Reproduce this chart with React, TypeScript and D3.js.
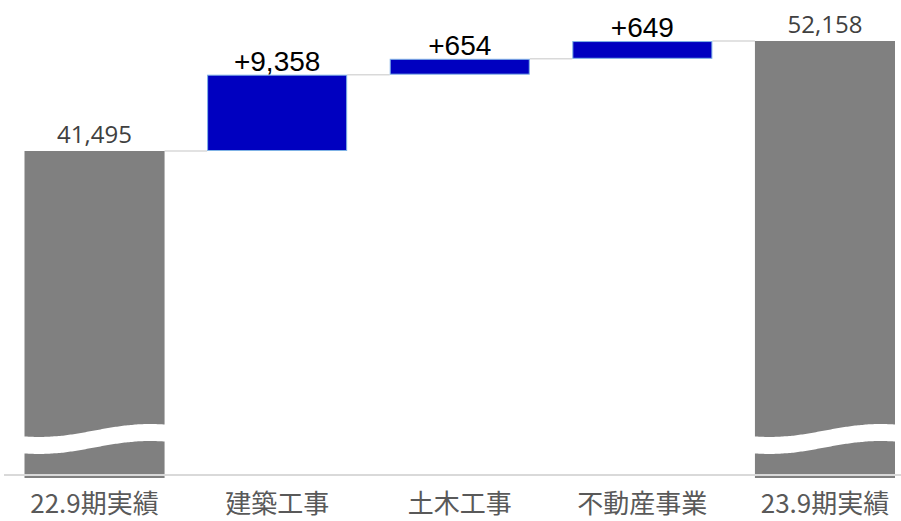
import React from "react";
import * as d3 from "d3";

const width = 901;
const height = 521;

const categories = ["22.9期実績", "建築工事", "土木工事", "不動産事業", "23.9期実績"];
const startValue = 41495;
const increments = [9358, 654, 649];
const endValue = 52158;

const barLeft = 24.5;
const barRight = 895;
const plotTop = 41; // top of the final total
const startTop = 151; // top of the opening total
const baselineY = 475;

const grayFill = "#808080";
const blueFill = "#0000c0";
const blueStroke = "#7fb2e5";
const connector = "#d9d9d9";

// the source graphic is not drawn to a linear scale above the break,
// so a pow scale over the visible range is used to follow it
const yScale = d3
  .scalePow()
  .exponent(2.8)
  .domain([0, endValue - startValue])
  .range([startTop, plotTop]);
const y = (v: number) => yScale(v - startValue);

const x = d3
  .scaleBand<string>()
  .domain(categories)
  .range([barLeft, barRight])
  .paddingInner(0.233)
  .paddingOuter(0);

type Step = { cat: string; kind: "total" | "delta"; from: number; to: number; value: number };

const steps: Step[] = [];
steps.push({ cat: categories[0], kind: "total", from: startValue, to: startValue, value: startValue });
let running = startValue;
increments.forEach((d, i) => {
  steps.push({ cat: categories[i + 1], kind: "delta", from: running, to: running + d, value: d });
  running += d;
});
steps.push({ cat: categories[4], kind: "total", from: endValue, to: endValue, value: endValue });

const fmtTotal = d3.format(",");
const fmtDelta = d3.format("+,");

const waveLine = d3
  .line<[number, number]>()
  .x((d) => d[0])
  .y((d) => d[1])
  .curve(d3.curveBasis);

// white band that marks the axis break on the total bars
const breakPath = (bx: number, bw: number) => {
  const xs = d3.range(bx - 5, bx + bw + 5, 3);
  const top = xs.map((px) => [px, 430.5 + 6.5 * Math.cos((Math.PI * (px - bx - 15)) / 110)] as [number, number]);
  const bottom = top.map(([px, py]) => [px, py + 17] as [number, number]).reverse();
  return (waveLine(top) || "") + "L" + (waveLine(bottom) || "").slice(1) + "Z";
};

export default function App() {
  const bw = x.bandwidth();
  return (
    <div>
      <style>{`body{margin:0}`}</style>
      <svg width={width} height={height} style={{ display: "block", background: "#fff" }}>
        {/* connectors */}
        {steps.slice(0, -1).map((s, i) => {
          const next = steps[i + 1];
          const level = s.kind === "total" ? s.value : s.to;
          return (
            <line
              key={"c" + i}
              x1={(x(s.cat) || 0) + bw}
              x2={x(next.cat) || 0}
              y1={y(level)}
              y2={y(level)}
              stroke={connector}
              strokeWidth={1.5}
            />
          );
        })}

        {/* bars */}
        {steps.map((s) => {
          const bx = x(s.cat) || 0;
          if (s.kind === "total") {
            const top = y(s.value);
            return (
              <g key={s.cat}>
                <rect x={bx} y={top} width={bw} height={baselineY + 3 - top} fill={grayFill} />
                <path d={breakPath(bx, bw)} fill="#fff" />
                <text
                  x={bx + bw / 2}
                  y={top - 8}
                  textAnchor="middle"
                  fontFamily="'Open Sans', sans-serif"
                  fontSize={24}
                  fill="#404040"
                >
                  {fmtTotal(s.value)}
                </text>
              </g>
            );
          }
          const top = y(s.to);
          const bottom = y(s.from);
          return (
            <g key={s.cat}>
              <rect
                x={bx + 0.5}
                y={top + 0.5}
                width={bw - 1}
                height={bottom - top - 1}
                fill={blueFill}
                stroke={blueStroke}
                strokeWidth={1}
              />
              <text
                x={bx + bw / 2}
                y={top - 4}
                textAnchor="middle"
                fontFamily="'Liberation Sans', Arial, sans-serif"
                fontSize={28}
                fill="#000"
              >
                {fmtDelta(s.value)}
              </text>
            </g>
          );
        })}

        {/* baseline */}
        <line x1={4} x2={width} y1={baselineY} y2={baselineY} stroke={connector} strokeWidth={2} />

        {/* category labels */}
        {categories.map((c) => (
          <text
            key={"l" + c}
            x={(x(c) || 0) + bw / 2}
            y={513}
            textAnchor="middle"
            fontFamily="'Noto Sans CJK JP', sans-serif"
            fontSize={26}
            fill="#595959"
          >
            {c}
          </text>
        ))}
      </svg>
    </div>
  );
}
